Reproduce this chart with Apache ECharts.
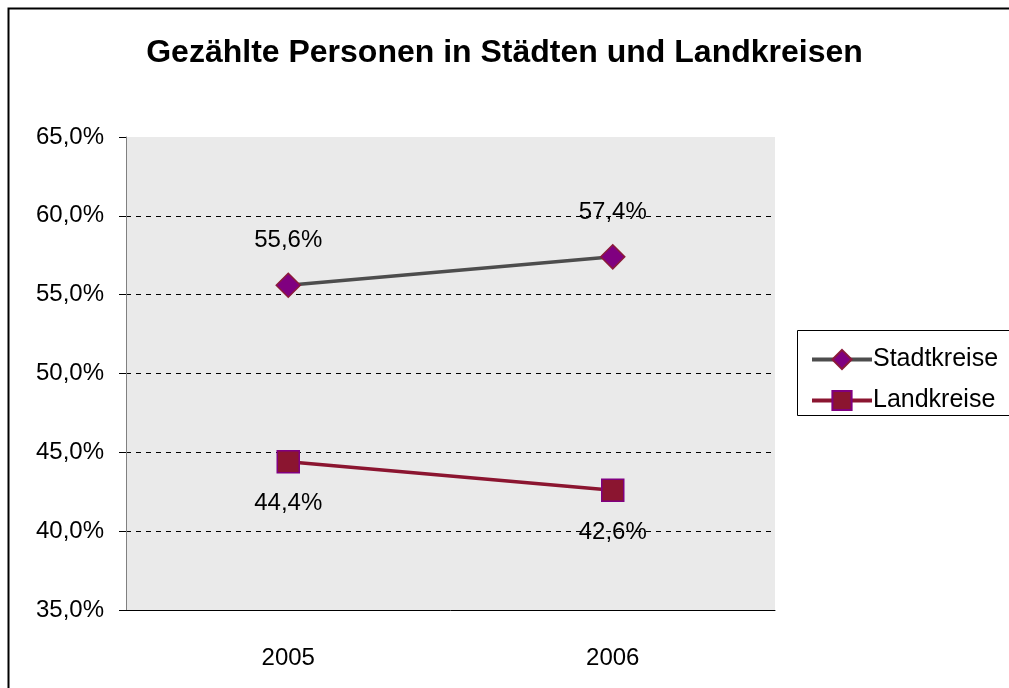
<!DOCTYPE html>
<html>
<head>
<meta charset="utf-8">
<script src="https://cdn.jsdelivr.net/npm/echarts@6/dist/echarts.min.js"></script>
<style>
  html, body { margin: 0; padding: 0; background: #fff; }
  #chart { width: 1009px; height: 688px; }
</style>
</head>
<body>
<div id="chart"></div>
<script>
const years = ['2005', '2006'];
const stadtkreise = [55.6, 57.4];
const landkreise = [44.4, 42.6];
const yTicks = { min: 35, max: 65, step: 5 };

const fmt = function (v, digits) {
  return v.toFixed(digits).replace('.', ',') + '%';
};

let chart = echarts.init(document.getElementById('chart'));

const chartOptions = {
  animation: false,
  backgroundColor: '#fff',
  textStyle: { fontFamily: 'Liberation Sans, Arial, sans-serif' },
  title: {
    text: 'Gezählte Personen in Städten und Landkreisen',
    left: 'center',
    top: 32,
    textStyle: { fontSize: 32, fontWeight: 'bold', color: '#000', fontFamily: 'Liberation Sans, Arial, sans-serif' }
  },
  graphic: [
    {
      type: 'rect',
      shape: { x: 8.5, y: 8.5, width: 1020, height: 700 },
      style: { fill: 'none', stroke: '#000', lineWidth: 2 },
      silent: true
    },
    {
      type: 'rect',
      shape: { x: 797.5, y: 330.5, width: 230, height: 85 },
      style: { fill: '#fff', stroke: '#000', lineWidth: 1 },
      silent: true,
      z: 0
    }
  ],
  legend: {
    orient: 'vertical',
    left: 805,
    top: 342,
    itemWidth: 60,
    itemHeight: 24,
    itemGap: 16,
    z: 10,
    lineStyle: { width: 4 },
    textStyle: { fontSize: 25, color: '#000', padding: [0, 0, 0, -4] },
    data: ['Stadtkreise', 'Landkreise']
  },
  grid: {
    left: 126,
    right: 1009 - 775,
    top: 137,
    bottom: 688 - 610,
    show: true,
    backgroundColor: '#EAEAEA',
    borderWidth: 0
  },
  xAxis: {
    type: 'category',
    data: years,
    boundaryGap: true,
    axisLine: { lineStyle: { color: '#000', width: 1 } },
    axisTick: { length: 7, lineStyle: { color: '#000' } },
    axisLabel: { fontSize: 24, color: '#000', margin: 36 }
  },
  yAxis: {
    type: 'value',
    min: yTicks.min,
    max: yTicks.max,
    interval: yTicks.step,
    axisLine: { show: true, lineStyle: { color: '#808080', width: 1 } },
    axisTick: { show: true, length: 7, lineStyle: { color: '#000' } },
    axisLabel: {
      fontSize: 24,
      color: '#000',
      margin: 22,
      formatter: function (v) { return fmt(v, 1); }
    },
    splitLine: {
      show: true,
      showMinLine: false,
      showMaxLine: false,
      lineStyle: { color: '#000', type: [5, 5], width: 1 }
    }
  },
  series: [
    {
      name: 'Stadtkreise',
      type: 'line',
      data: stadtkreise,
      symbol: 'diamond',
      symbolSize: 24,
      lineStyle: { color: '#4D4D4D', width: 3.5 },
      itemStyle: { color: '#800080', borderColor: '#8B1A3A', borderWidth: 1.5 },
      label: {
        show: true,
        position: 'top',
        distance: 20,
        fontSize: 24,
        color: '#000',
        formatter: function (p) { return fmt(p.value, 1); }
      }
    },
    {
      name: 'Landkreise',
      type: 'line',
      data: landkreise,
      symbol: 'rect',
      symbolSize: 22,
      lineStyle: { color: '#8B1530', width: 3.5 },
      itemStyle: { color: '#8B1530', borderColor: '#800080', borderWidth: 1.5 },
      label: {
        show: true,
        position: 'bottom',
        distance: 18,
        fontSize: 24,
        color: '#000',
        formatter: function (p) { return fmt(p.value, 1); }
      }
    }
  ]
};

chart.setOption(chartOptions);
</script>
</body>
</html>
